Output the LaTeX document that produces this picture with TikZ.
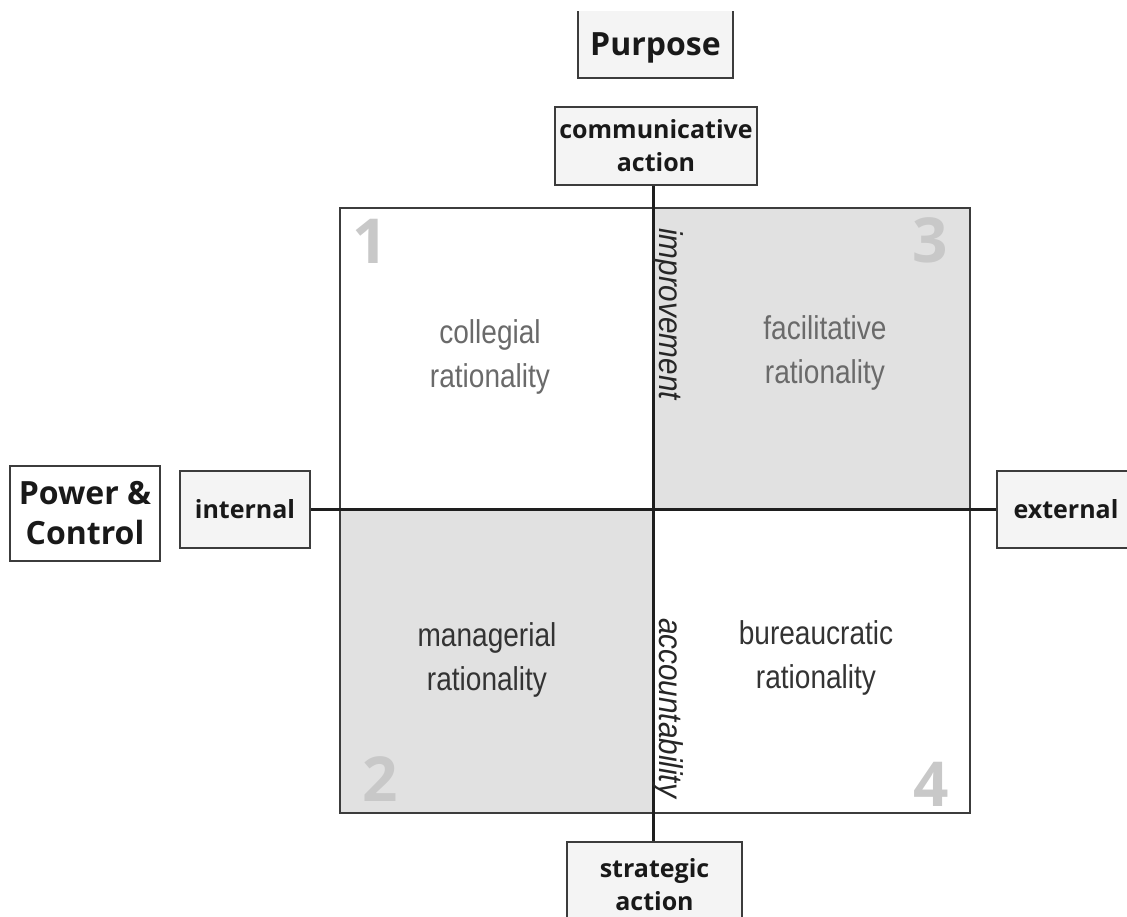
\documentclass[tikz,border=0pt]{standalone}
\usepackage{fontspec}
\setmainfont{Liberation Sans}
\newfontfamily\boxfont{Open Sans}
\newfontfamily\narrowfont{Liberation Sans}[FakeStretch=0.85]
\newfontfamily\narrowitfont{Liberation Sans}[FakeStretch=0.9]
\definecolor{boxline}{HTML}{3C3C3C}
\definecolor{boxfill}{HTML}{F4F4F4}
\definecolor{axisline}{HTML}{1E1E1E}
\definecolor{quadgray}{HTML}{E1E1E1}
\definecolor{numgray}{HTML}{C8C8C8}
\definecolor{lightlabel}{HTML}{6A6A6A}
\definecolor{darklabel}{HTML}{333333}
\begin{document}
\begin{tikzpicture}[x=1pt,y=-1pt,
  box/.style={draw=boxline, line width=2pt, fill=boxfill, inner sep=0pt, align=center,
    text=black!90, font=\boxfont\bfseries\fontsize{25}{33}\selectfont},
  bigbox/.style={box, fill=white, font=\boxfont\bfseries\fontsize{32}{40}\selectfont},
  axis/.style={draw=axisline, line width=3pt},
  frame/.style={draw=boxline, line width=2pt},
  quadnum/.style={inner sep=0pt, text=numgray, font=\boxfont\bfseries\fontsize{62}{62}\selectfont},
  quadlabel/.style={inner sep=0pt, align=center, font=\narrowfont\fontsize{33}{44}\selectfont},
  axislabel/.style={inner sep=0pt, rotate=-90, anchor=base, text=black!85, font=\narrowitfont\itshape\fontsize{33}{33}\selectfont}]
\useasboundingbox (0,0) rectangle (1127,917);
\clip (0,11.5) rectangle (1127,917);
% quadrants
\fill[quadgray] (653,208) rectangle (970,510);
\fill[quadgray] (340,510) rectangle (653,813);
\draw[frame] (340,208) rectangle (970,813);
\coordinate (c) at (653,510);
% boxes
\node[bigbox, minimum width=155, minimum height=68, fill=boxfill, text height=23pt, text depth=0pt] (purpose) at (655.5,44) {Purpose};
\node[box, minimum width=202, minimum height=78] (comm) at (656,146) {communicative\\action};
\node[box, minimum width=175, minimum height=86] (strat) at (654.5,885) {strategic\\action};
\node[box, minimum width=130, minimum height=77] (internal) at (245,509.5) {internal};
\node[box, minimum width=138, minimum height=77] (external) at (1066,509.5) {external};
\node[bigbox, minimum width=150, minimum height=95] (power) at (85,513.5) {Power \&\\Control};
% axes
\draw[axis] (c |- comm.south) -- (c |- strat.north);
\draw[axis] (internal.east) -- (external.west);
% numbers
\node[quadnum] (n1) at (370,241) {1};
\node[quadnum] (n3) at (930,240) {3};
\node[quadnum] (n2) at (380,779) {2};
\node[quadnum] (n4) at (931,784) {4};
% quadrant labels
\node[quadlabel, text=lightlabel] (l1) at (490,357) {collegial\\rationality};
\node[quadlabel, text=lightlabel] (l3) at (825,353) {facilitative\\rationality};
\node[quadlabel, text=darklabel] (l2) at (487,660) {managerial\\rationality};
\node[quadlabel, text=darklabel] (l4) at (816,658) {bureaucratic\\rationality};
% axis labels
\node[axislabel] (impr) at (659,314) {improvement};
\node[axislabel] (acc) at (659,708) {accountability};
\end{tikzpicture}
\end{document}
